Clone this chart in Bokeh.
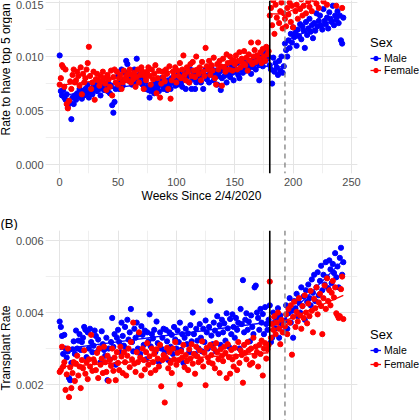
import numpy as np
from bokeh.plotting import figure
from bokeh.layouts import column, row
from bokeh.models import (Range1d, SingleIntervalTicker, NumeralTickFormatter, Legend,
                          LegendItem, Span, Label)
from bokeh.embed import file_html
from bokeh.resources import INLINE

# ---------------- data (values in units of 1e-5) ----------------
UNIT = 1e-5
weeks = list(range(244))

top_male = [
    1010, 680, 640, 690, 620, 600, 650, 530, 590, 570,
    420, 620, 560, 640, 600, 660, 630, 700, 650, 610,
    680, 640, 700, 660, 740, 620, 670, 700, 650, 720,
    690, 730, 680, 760, 700, 640, 710, 760, 690, 720,
    700, 680, 750, 660, 730, 550, 480, 580, 700, 750,
    820, 700, 760, 880, 730, 780, 850, 960, 930, 800,
    770, 820, 740, 790, 880, 760, 980, 800, 830, 760,
    810, 740, 850, 780, 700, 720, 690, 620, 680, 710,
    740, 660, 700, 760, 720, 680, 740, 800, 770, 700,
    720, 750, 690, 780, 740, 700, 800, 760, 820, 730,
    780, 740, 850, 800, 760, 720, 830, 790, 700, 860,
    820, 760, 880, 700, 790, 840, 700, 760, 810, 870,
    800, 760, 840, 700, 830, 880, 790, 820, 760, 850,
    900, 830, 780, 810, 870, 740, 820, 860, 690, 800,
    880, 820, 900, 760, 840, 870, 810, 920, 850, 780,
    890, 860, 940, 830, 800, 880, 900, 850, 950, 910,
    870, 930, 890, 960, 840, 920, 900, 980, 880, 950,
    930, 780, 990, 940, 910, 1010, 960, 1040, 980, 1000,
    920, 880, 750, 990, 860, 940, 900, 830, 960, 870, 1000, 850, 910,
    1120, 1060, 1000, 1150, 1080, 1210, 1130, 1270, 1180, 1220,
    1100, 1250, 1190, 1300, 1160, 1280, 1240, 1080, 1320, 1200,
    1260, 1350, 1230, 1290, 1170, 1310, 1240, 1400, 1280, 1330,
    1380, 1290, 1250, 1440, 1330, 1300, 1360, 1260, 1410, 1350,
    1320, 1470, 1290, 1380, 1340, 1420, 1310, 1380, 1150, 1120, 1360,
]

top_female = [
    740, 800, 920, 900, 720, 880, 560, 520, 590, 770,
    700, 830, 880, 760, 780, 860, 820, 730, 900, 650,
    840, 760, 800, 880, 940, 1090, 820, 700, 760, 860,
    600, 790, 840, 780, 730, 820, 770, 860, 800, 750,
    690, 830, 790, 720, 870, 640, 810, 880, 760, 860,
    740, 800, 830, 700, 760, 870, 790, 820, 780, 840,
    880, 760, 830, 790, 850, 720, 810, 880, 760, 830,
    900, 860, 700, 820, 780, 860, 900, 820, 740, 880,
    790, 840, 920, 660, 800, 870, 620, 750, 860, 810,
    770, 880, 840, 700, 910, 610, 780, 860, 820, 900,
    760, 870, 820, 940, 800, 880, 1010, 830, 780, 900,
    860, 760, 930, 820, 950, 870, 810, 1000, 880, 840,
    900, 780, 950, 860, 820, 1080, 910, 880, 960, 830,
    920, 870, 990, 800, 740, 930, 880, 960, 910, 730,
    980, 900, 860, 1020, 940, 880, 1000, 950, 870, 970,
    930, 1010, 880, 960, 1040, 900, 980, 940, 1050, 920,
    990, 870, 1020, 960, 1130, 930, 1000, 1060, 950, 1010,
    1130, 980, 1040, 940, 1070, 1000, 960, 1090, 1020, 1050,
    1380, 1450, 1290, 1520, 1210, 1480, 1360, 1550, 1310, 1420, 1500, 1260, 1400,
    1350, 1280, 1450, 1390, 1500, 1320, 1470, 1270, 1560, 1420,
    1480, 1350, 1600, 1440, 1530, 1380, 1470, 1620, 1400, 1550,
    1510, 1460, 1650, 1420, 1580, 1530, 1680, 1490, 1600, 1450,
    1620, 1560, 1700, 1510, 1640, 1580, 1480, 1690, 1600, 1550,
    1720, 1620, 1560, 1680, 1470, 1640, 1750, 1580, 1660, 1450, 1700,
]

bottom_male = [
    375, 360, 335, 285, 338, 300, 275, 292, 218, 212,
    260, 298, 320, 285, 350, 300, 322, 340, 296, 318,
    330, 360, 352, 276, 345, 300, 355, 318, 290, 308,
    350, 335, 290, 325, 300, 262, 348, 312, 296, 280,
    330, 212, 300, 270, 318, 385, 305, 340, 255, 330,
    352, 318, 290, 372, 335, 308, 360, 300, 380, 325,
    345, 410, 318, 292, 355, 330, 372, 300, 340, 285,
    362, 338, 310, 350, 270, 345, 320, 395, 306, 340,
    328, 352, 290, 375, 315, 262, 345, 300, 330, 355,
    290, 352, 320, 268, 345, 305, 338, 285, 360, 325,
    300, 350, 318, 372, 296, 340, 260, 330, 355, 312,
    342, 290, 365, 320, 400, 340, 285, 355, 322, 300,
    368, 330, 292, 355, 318, 378, 345, 300, 360, 433,
    336, 312, 372, 350, 292, 390, 340, 365, 310, 380,
    345, 370, 322, 398, 356, 305, 382, 340, 395, 360,
    330, 385, 352, 372, 300, 410, 368, 490, 345, 380,
    398, 352, 375, 320, 392, 360, 340, 470, 475, 400,
    385, 352, 410, 372, 396, 340, 415, 368, 352, 380,
    420, 318, 330, 400, 372, 356, 385, 412, 330, 392, 370, 365, 345,
    378, 420, 355, 398, 440, 372, 405, 330, 432, 412,
    452, 390, 428, 400, 470, 418, 445, 380, 462, 430,
    478, 440, 420, 492, 455, 505, 432, 470, 512, 448,
    488, 530, 462, 505, 478, 540, 498, 468, 545, 520,
    482, 535, 510, 565, 498, 528, 470, 552, 580, 505, 540,
]

bottom_female = [
    235, 240, 305, 250, 262, 185, 228, 300, 165, 248,
    190, 232, 262, 210, 258, 280, 225, 250, 190, 268,
    245, 295, 230, 262, 215, 270, 250, 338, 238, 270,
    262, 240, 288, 218, 300, 255, 272, 232, 305, 262,
    235, 280, 210, 268, 252, 300, 238, 275, 212, 290,
    260, 240, 305, 278, 232, 290, 262, 225, 280, 300,
    248, 318, 270, 372, 258, 235, 290, 262, 345, 275,
    225, 300, 268, 242, 290, 315, 255, 278, 232, 300,
    262, 285, 240, 298, 272, 250, 310, 195, 268, 282,
    150, 275, 302, 245, 290, 260, 232, 300, 270, 318,
    255, 288, 268, 200, 292, 275, 310, 248, 282, 265,
    240, 298, 272, 312, 258, 285, 230, 305, 278, 262,
    295, 268, 320, 250, 288, 198, 302, 275, 262, 310,
    282, 258, 300, 245, 315, 290, 270, 232, 298, 280,
    265, 305, 288, 218, 312, 276, 230, 296, 270, 250,
    302, 278, 240, 318, 260, 295, 282, 205, 310, 288,
    270, 318, 295, 255, 300, 260, 330, 280, 305, 290,
    250, 310, 285, 322, 225, 300, 315, 272, 298, 310,
    486, 330, 368, 352, 390, 340, 372, 400, 355, 312, 380, 345, 365,
    362, 395, 340, 410, 372, 420, 283, 388, 430, 360,
    402, 375, 440, 392, 355, 418, 385, 448, 400, 370,
    425, 390, 460, 405, 345, 438, 412, 470, 395, 428,
    452, 418, 340, 440, 475, 410, 495, 432, 462, 420,
    455, 488, 442, 470, 398, 392, 385, 390, 465, 500, 382,
]

segment_breaks = [0, 180, 193, 244]
event_week = 180
second_week = 193
series_names = ["Male", "Female"]
series_colors = ["#0000FF", "#FF0000"]
top_title = "Rate to have top 5 organ offers"
bottom_title = "Transplant Rate"
x_title = "Weeks Since 2/4/2020"
legend_title = "Sex"
panel_tag = "(B)"

# ---------------- styling / layout constants ----------------
FONT = "Liberation Sans"
STRIP_W = 12
MAIN_W = 353
LEG_W = 55
TOP_H = 215
TOP_AXIS_H = 42
TAG_H = 15
BOT_H = 190
X0, X1 = -12.15, 255.15
GRID_COLOR = "#E4E4E4"
DOT_SIZE = 5.2


def blank_fig(w, h, border_bottom=0):
    p = figure(width=w, height=h, output_backend="svg", toolbar_location=None,
               x_range=Range1d(0, w), y_range=Range1d(0, h - border_bottom),
               x_axis_location=None, y_axis_location=None,
               min_border_top=0, min_border_left=0,
               min_border_right=0, min_border_bottom=border_bottom,
               outline_line_color=None, background_fill_color="white",
               border_fill_color="white")
    p.grid.visible = False
    return p


def style_axes(p):
    for ax in p.axis:
        ax.axis_line_color = None
        ax.major_tick_line_color = None
        ax.minor_tick_line_color = None
        ax.major_tick_out = 0
        ax.major_tick_in = 0
        ax.minor_tick_out = 0
        ax.minor_tick_in = 0
        ax.major_label_text_font = FONT
        ax.major_label_text_font_size = "11px"
        ax.major_label_text_color = "#4D4D4D"
        ax.major_label_standoff = 2
        ax.axis_label_text_font = FONT
        ax.axis_label_text_font_size = "12px"
        ax.axis_label_text_font_style = "normal"
        ax.axis_label_text_color = "black"
        ax.axis_label_standoff = 0


def main_panel(height, border_bottom, y0, y1, y_step, with_xaxis, male, female):
    p = figure(width=MAIN_W, height=height, output_backend="svg", toolbar_location=None,
               x_range=Range1d(X0, X1), y_range=Range1d(y0, y1),
               x_axis_location="below" if with_xaxis else None,
               min_border_left=33, min_border_right=8,
               min_border_top=0, min_border_bottom=border_bottom,
               background_fill_color="white", border_fill_color="white",
               outline_line_color=None)
    xt = SingleIntervalTicker(interval=50, num_minor_ticks=2)
    yt = SingleIntervalTicker(interval=y_step, num_minor_ticks=2)
    p.yaxis.ticker = yt
    p.yaxis.formatter = NumeralTickFormatter(format="0.000")
    p.ygrid.ticker = yt
    p.xgrid.ticker = xt
    style_axes(p)
    if with_xaxis:
        p.xaxis.ticker = xt
        p.xaxis.axis_label = x_title
        p.xaxis.major_label_standoff = 4
    for g in p.grid:
        g.grid_line_color = GRID_COLOR
        g.grid_line_width = 1
        g.minor_grid_line_color = GRID_COLOR
        g.minor_grid_line_width = 0.6

    x = np.array(weeks, dtype=float)
    for color, vals in zip(series_colors, [male, female]):
        y = np.array(vals, dtype=float) * UNIT
        p.scatter(x, y, size=DOT_SIZE, color=color, line_color=color)
        for a, b in zip(segment_breaks[:-1], segment_breaks[1:]):
            xs = x[a:b]
            ys = y[a:b]
            k, c = np.polyfit(xs, ys, 1)
            xe = np.array([xs.min(), xs.max()])
            p.line(xe, k * xe + c, line_color=color, line_width=1.3)

    p.add_layout(Span(location=event_week, dimension="height", line_color="black",
                      line_width=1.6))
    p.add_layout(Span(location=second_week, dimension="height", line_color="#7F7F7F",
                      line_width=1.3, line_dash="5 4"))
    return p


def legend_fig(height, border_bottom, legend_bottom, spacing):
    p = blank_fig(LEG_W, height, border_bottom)
    items = []
    for name, color in zip(series_names, series_colors):
        # legend keys only: kept outside the visible range of this small figure
        ln = p.line(x=[-40, -30], y=[-40, -40], line_color=color, line_width=1.3)
        sc = p.scatter(x=[-35], y=[-40], size=DOT_SIZE, color=color, line_color=color)
        items.append(LegendItem(label=name, renderers=[ln, sc]))
    legend = Legend(items=items, title=legend_title, location=(5, legend_bottom),
                    orientation="vertical",
                    title_text_font=FONT, title_text_font_size="13px",
                    title_text_font_style="normal", title_text_color="black",
                    label_text_font=FONT, label_text_font_size="10.5px",
                    label_text_color="black",
                    glyph_width=11, glyph_height=12, label_height=12,
                    label_standoff=3, spacing=spacing, padding=0, margin=0,
                    title_standoff=2, border_line_color=None,
                    background_fill_alpha=0)
    p.add_layout(legend, "center")
    return p


def strip_fig(height, border_bottom, text, text_bottom):
    p = blank_fig(STRIP_W, height, border_bottom)
    p.add_layout(Label(x=5, y=text_bottom, text=text, angle=np.pi / 2,
                       text_align="left", text_baseline="middle",
                       text_font=FONT, text_font_size="12px", text_color="black"))
    return p


top_main = main_panel(TOP_H, TOP_AXIS_H, -0.00083, 0.01519, 0.005, True,
                      top_male, top_female)
bot_main = main_panel(BOT_H, 0, 0.001, 0.00628, 0.002, False,
                      bottom_male, bottom_female)

top_row = row(strip_fig(TOP_H, TOP_AXIS_H, top_title, 38), top_main,
              legend_fig(TOP_H, TOP_AXIS_H, 97, 0), spacing=0)
bot_row = row(strip_fig(BOT_H, 0, bottom_title, 30), bot_main,
              legend_fig(BOT_H, 0, 50, 2), spacing=0)

tag = blank_fig(STRIP_W + MAIN_W + LEG_W, TAG_H)
tag.add_layout(Label(x=0, y=7.5, text=panel_tag, text_align="left", text_baseline="middle",
                     text_font=FONT, text_font_size="13px", text_color="black"))

layout = column(top_row, tag, bot_row, spacing=0)
open("out.html", "w").write(file_html(layout, INLINE))
